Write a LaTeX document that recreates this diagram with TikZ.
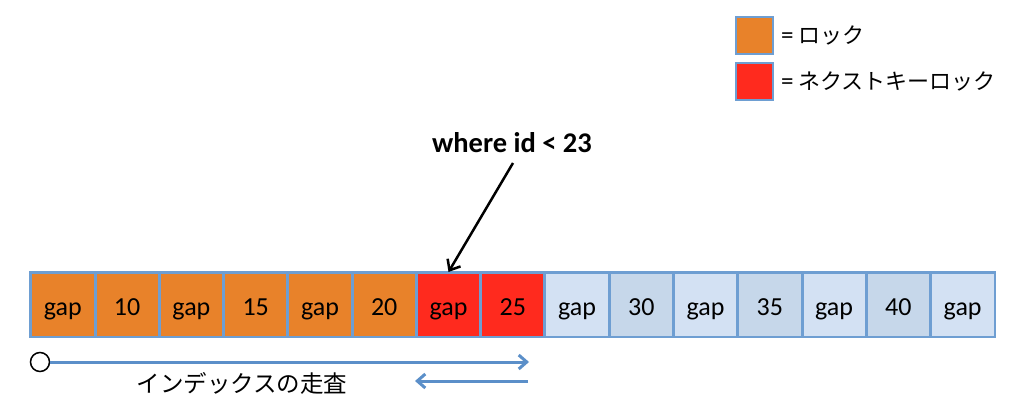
\documentclass[tikz,border=0pt]{standalone}
\usepackage{fontspec}
\setmainfont{Carlito}
\newfontfamily\jp{Noto Sans CJK JP}
\usetikzlibrary{arrows.meta}
\definecolor{lockor}{HTML}{E8822A}
\definecolor{lockred}{HTML}{FF2A1E}
\definecolor{gapblue}{HTML}{D3E1F3}
\definecolor{numblue}{HTML}{C6D7EA}
\definecolor{cellline}{HTML}{6E9ED2}
\definecolor{arrblue}{HTML}{5B8FC9}
\tikzset{
  cell/.style={draw=cellline, line width=1.5pt, minimum width=64.27pt, minimum height=64pt,
    anchor=north west, inner sep=0pt, text height=25pt, text depth=3pt,
    font=\fontsize{26}{28}\selectfont},
  legbox/.style={draw=cellline, line width=1.5pt, minimum size=37pt, inner sep=0pt},
  legtext/.style={anchor=west, inner sep=0pt, font=\fontsize{22}{26}\selectfont},
  bluearrow/.style={draw=arrblue, line width=3pt, -{Straight Barb[length=8pt,width=14pt,line width=3pt]}},
  blackarrow/.style={draw=black, line width=2.5pt, -{Straight Barb[length=9pt,width=15pt,line width=2.5pt]}},
}
\begin{document}
\begin{tikzpicture}[x=1pt,y=-1pt]
\useasboundingbox (0,0) rectangle (1024,417);
% cells
\foreach \i/\t/\c in {0/gap/lockor,1/10/lockor,2/gap/lockor,3/15/lockor,4/gap/lockor,5/20/lockor,
  6/gap/lockred,7/25/lockred,8/gap/gapblue,9/30/numblue,10/gap/gapblue,11/35/numblue,
  12/gap/gapblue,13/40/numblue,14/gap/gapblue}{
  \node[cell, fill=\c] (c\i) at ({30+\i*64.27},272) {\t};
}
\foreach \i in {0,...,14}{
  \draw[cellline, line width=1.5pt] (c\i.north west) rectangle (c\i.south east);
}
% legend
\node[legbox, fill=lockor] (l1) at (754.5,35.5) {};
\node[legtext] (t1) at (781,35) {{\fontsize{25}{26}\selectfont =} {\jp ロック}};
\node[legbox, fill=lockred] (l2) at (754.5,81.5) {};
\node[legtext] (t2) at (781,81) {{\fontsize{25}{26}\selectfont =} {\jp ネクストキーロック}};
% where clause
\node[font=\bfseries\fontsize{28.5}{30}\selectfont] (w) at (512,143) {where id < 23};
\coordinate (ws) at (513,163);
\draw[blackarrow] (ws) -- (c6.north);
% scan
\node[draw=black, circle, line width=1.5pt, minimum size=19pt, inner sep=0pt] (s) at (40,362) {};
\coordinate (e1) at (529,362);
\draw[bluearrow] (s.east) -- (e1);
\coordinate (b1) at (528,381);
\coordinate (b2) at (415,381);
\draw[bluearrow] (b1) -- (b2);
\node[font=\jp\fontsize{23.5}{26}\selectfont] (scan) at (242,383) {インデックスの走査};
\end{tikzpicture}
\end{document}
